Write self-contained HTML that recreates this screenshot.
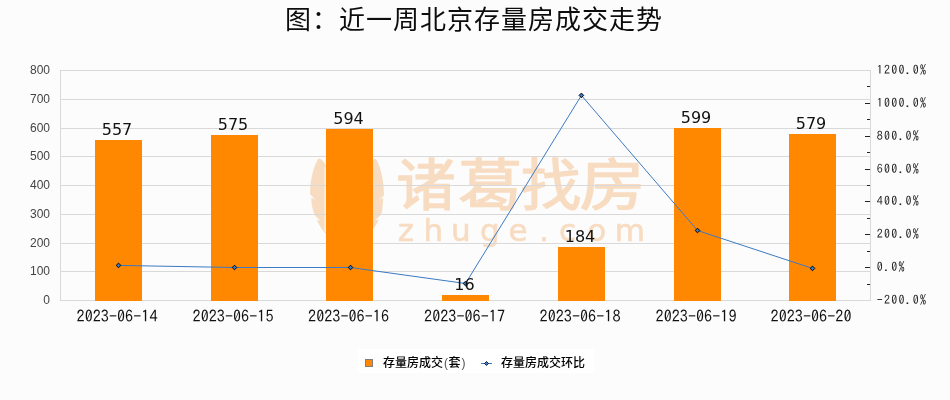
<!DOCTYPE html>
<html lang="zh-CN">
<head>
<meta charset="utf-8">
<title>近一周北京存量房成交走势</title>
<style>
html,body{margin:0;padding:0;background:#fcfcfc;width:950px;height:400px;overflow:hidden}
svg{display:block;will-change:transform}
.t{font-family:"Liberation Sans","Noto Sans CJK SC",sans-serif}
.cjk{font-family:"Noto Sans CJK SC","WenQuanYi Zen Hei",sans-serif}
.ax{font-family:"Liberation Sans",sans-serif;font-size:12px;fill:#444}
.ra{font-family:"IPAGothic","Liberation Mono",monospace;font-size:12px;letter-spacing:1.2px;fill:#1a1a1a}
.xl{font-family:"IPAGothic","Liberation Mono",monospace;font-size:16.2px;fill:#111}
.dl{font-family:"DejaVu Sans","Liberation Sans",sans-serif;font-size:16px;fill:#111}
.lg{font-family:"Liberation Sans","Noto Sans CJK SC",sans-serif;font-size:12px;font-weight:500;fill:#000}
</style>
</head>
<body>
<svg width="950" height="400" viewBox="0 0 950 400">
<rect x="0" y="0" width="950" height="400" fill="#fcfcfc"/>

<!-- title -->
<text x="474" y="28.6" text-anchor="middle" class="cjk" font-size="26" letter-spacing="1" fill="#0d0d0d">图：近一周北京存量房成交走势</text>

<!-- watermark -->
<g fill="#f8dcc1" font-family="'Noto Sans CJK SC','WenQuanYi Zen Hei',sans-serif" font-size="56" font-weight="400" stroke="#f8dcc1" stroke-width="1.3" stroke-linejoin="round">
  <text transform="translate(396.2,205) scale(1.06,1)">诸</text>
  <text transform="translate(458,205) scale(1.15,1)">葛</text>
  <text transform="translate(520.8,205) scale(1.08,1)">找</text>
  <text transform="translate(579.8,205) scale(1.17,1)">房</text>
</g>
<text y="240.5" x="397.8 423.4 451.1 479.9 508.4 539.1 558.9 587.3 614.7" font-family="'DejaVu Sans',sans-serif" font-size="31" fill="#f8dcc1" stroke="#f8dcc1" stroke-width="0.6">zhuge.com</text>
<g fill="#f8dcc1">
  <path d="M318.5,158.5 C315,163 311.5,175 310.3,186 L310,194 L315,199.5 L311.2,197.8 C311.4,205 312.8,211 315,215.5 L320.5,221 L316.8,219.8 C319,225 322,230 326,234 L326,166 C324.5,162 321,158.5 318.5,158.5 Z"/>
  <path d="M375.8,158.8 C379.5,164 382.5,175 383.5,186 L384,195.5 L379.3,199.5 L383.2,198 C383,205 382.2,211 381.3,214.5 L375,220.6 L378.6,219.4 C377,224 375,227 372,230 L372,160 Z"/>
</g>
<path d="M325.2,167 L325.2,232" stroke="#fcfcfc" stroke-width="1" fill="none"/>

<!-- gridlines -->
<g stroke="#d9d9d9" stroke-width="1" shape-rendering="crispEdges">
  <line x1="60" y1="70.5" x2="871" y2="70.5"/>
  <line x1="60" y1="99.5" x2="871" y2="99.5"/>
  <line x1="60" y1="128.5" x2="871" y2="128.5"/>
  <line x1="60" y1="156.5" x2="871" y2="156.5"/>
  <line x1="60" y1="185.5" x2="871" y2="185.5"/>
  <line x1="60" y1="214.5" x2="871" y2="214.5"/>
  <line x1="60" y1="243.5" x2="871" y2="243.5"/>
  <line x1="60" y1="271.5" x2="871" y2="271.5"/>
  <line x1="60" y1="300.5" x2="871" y2="300.5"/>
  <line x1="60.5" y1="70" x2="60.5" y2="301"/>
  <line x1="870.5" y1="70" x2="870.5" y2="301"/>
</g>
<!-- right axis ticks -->
<g stroke="#222" stroke-width="1" shape-rendering="crispEdges">
  <line x1="865" y1="103.5" x2="870" y2="103.5"/>
  <line x1="865" y1="136.5" x2="870" y2="136.5"/>
  <line x1="865" y1="169.5" x2="870" y2="169.5"/>
  <line x1="865" y1="201.5" x2="870" y2="201.5"/>
  <line x1="865" y1="234.5" x2="870" y2="234.5"/>
  <line x1="865" y1="267.5" x2="870" y2="267.5"/>
  <line x1="867" y1="86.5" x2="870" y2="86.5"/>
  <line x1="867" y1="119.5" x2="870" y2="119.5"/>
  <line x1="867" y1="152.5" x2="870" y2="152.5"/>
  <line x1="867" y1="185.5" x2="870" y2="185.5"/>
  <line x1="867" y1="218.5" x2="870" y2="218.5"/>
  <line x1="867" y1="251.5" x2="870" y2="251.5"/>
  <line x1="867" y1="284.5" x2="870" y2="284.5"/>
</g>

<!-- left axis labels -->
<g class="ax" text-anchor="end">
  <text x="50" y="74">800</text>
  <text x="50" y="103">700</text>
  <text x="50" y="132">600</text>
  <text x="50" y="160">500</text>
  <text x="50" y="189">400</text>
  <text x="50" y="218">300</text>
  <text x="50" y="247">200</text>
  <text x="50" y="275">100</text>
  <text x="50" y="304">0</text>
</g>

<!-- right axis labels -->
<g class="ra">
  <text x="876.8" y="74">1200.0%</text>
  <text x="876.8" y="107">1000.0%</text>
  <text x="876.8" y="140">800.0%</text>
  <text x="876.8" y="173">600.0%</text>
  <text x="876.8" y="205">400.0%</text>
  <text x="876.8" y="238">200.0%</text>
  <text x="876.8" y="271">0.0%</text>
  <text x="876.8" y="304">-200.0%</text>
</g>

<!-- bars -->
<g fill="#ff8800" shape-rendering="crispEdges">
  <rect x="95" y="140" width="47" height="160.5"/>
  <rect x="211" y="135" width="47" height="165.5"/>
  <rect x="326" y="129" width="47" height="171.5"/>
  <rect x="442" y="295" width="47" height="5.5"/>
  <rect x="558" y="247" width="47" height="53.5"/>
  <rect x="674" y="128" width="47" height="172.5"/>
  <rect x="789" y="134" width="47" height="166.5"/>
</g>

<!-- line -->
<polyline fill="none" stroke="#3b7ac4" stroke-width="1" points="118.5,265.4 234.5,267.5 350.5,267.5 465.5,283.5 581.4,95.4 697.5,230.5 812.5,268.4"/>
<g fill="#3b7ac4" stroke="#000" stroke-width="1">
  <path d="M118.5,263.1 l2.3,2.3 l-2.3,2.3 l-2.3,-2.3 z"/>
  <path d="M234.5,265.2 l2.3,2.3 l-2.3,2.3 l-2.3,-2.3 z"/>
  <path d="M350.5,265.2 l2.3,2.3 l-2.3,2.3 l-2.3,-2.3 z"/>
  <path d="M465.5,281.2 l2.3,2.3 l-2.3,2.3 l-2.3,-2.3 z"/>
  <path d="M581.4,93.1 l2.3,2.3 l-2.3,2.3 l-2.3,-2.3 z"/>
  <path d="M697.5,228.2 l2.3,2.3 l-2.3,2.3 l-2.3,-2.3 z"/>
  <path d="M812.5,266.1 l2.3,2.3 l-2.3,2.3 l-2.3,-2.3 z"/>
</g>

<!-- data labels -->
<g class="dl" text-anchor="middle">
  <text x="117" y="135">557</text>
  <text x="233" y="130">575</text>
  <text x="348.5" y="124">594</text>
  <text x="464.5" y="290">16</text>
  <text x="580" y="242">184</text>
  <text x="696" y="123">599</text>
  <text x="811" y="129">579</text>
</g>

<!-- x labels -->
<g class="xl" text-anchor="middle">
  <text x="117" y="322">2023-06-14</text>
  <text x="233" y="322">2023-06-15</text>
  <text x="348.5" y="322">2023-06-16</text>
  <text x="464.5" y="322">2023-06-17</text>
  <text x="580" y="322">2023-06-18</text>
  <text x="696" y="322">2023-06-19</text>
  <text x="811" y="322">2023-06-20</text>
</g>

<!-- legend -->
<rect x="358" y="349" width="236" height="24" fill="#ffffff"/>
<rect x="365.5" y="359.5" width="7" height="7" fill="#ff8800" stroke="#7f7f7f" stroke-width="1"/>
<text x="383" y="367" class="lg">存量房成交<tspan dx="1" fill="#555">(</tspan><tspan dx="0.5">套</tspan><tspan dx="1" fill="#555">)</tspan></text>
<line x1="481" y1="363.5" x2="492" y2="363.5" stroke="#3b7ac4" stroke-width="1"/>
<path d="M486.5,361.5 l2,2 l-2,2 l-2,-2 z" fill="#3b7ac4" stroke="#000" stroke-width="0.8"/>
<text x="501" y="367" class="lg">存量房成交环比</text>
</svg>
</body>
</html>
